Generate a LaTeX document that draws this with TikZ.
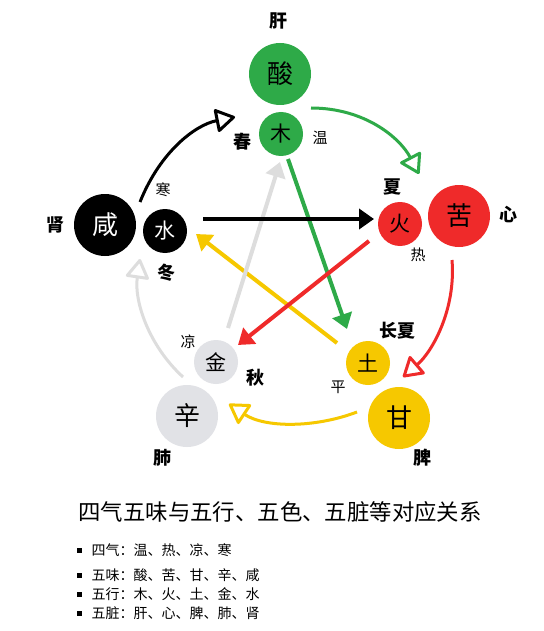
\documentclass[tikz,border=0pt]{standalone}
\usepackage{fontspec}
\setmainfont{Noto Sans CJK SC}
\usetikzlibrary{arrows.meta}
\definecolor{wgreen}{HTML}{2EAA48}
\definecolor{wred}{HTML}{EF2A2A}
\definecolor{wyellow}{HTML}{F6C800}
\definecolor{wgray}{HTML}{E1E2E6}
\definecolor{agray}{HTML}{DDDDDD}
\begin{document}
\begin{tikzpicture}[x=1pt,y=-1pt,
  big/.style={circle,minimum size=62pt,inner sep=0pt,font=\fontsize{26}{26}\selectfont},
  small/.style={circle,minimum size=44pt,inner sep=0pt,font=\fontsize{21}{21}\selectfont},
  lab/.style={font=\bfseries\fontsize{18}{18}\selectfont},
  qi/.style={font=\fontsize{15}{15}\selectfont},
  sarrow/.style={line width=4pt,-{Triangle[length=15pt,width=20pt]}},
  carrow/.style={line width=3pt,-{Triangle[length=21pt,width=25pt,line width=3pt,round,fill=white]}},
  bullet/.style={rectangle,fill=black,minimum size=5pt,inner sep=0pt},
  legend/.style={anchor=west,font=\fontsize{14}{14}\selectfont},
]
\useasboundingbox (0,0) rectangle (543,631);
\fill[white] (0,0) rectangle (543,631);

% circles
\node[big,fill=wgreen] (sour) at (280,74) {酸};
\node[small,fill=wgreen] (wood) at (281,134) {木};
\node[big,fill=black,text=white] (salty) at (105,225) {咸};
\node[small,fill=black,text=white] (water) at (165,231) {水};
\node[small,fill=wred] (fire) at (400,224) {火};
\node[big,fill=wred] (bitter) at (459,216) {苦};
\node[small,fill=wgray] (metal) at (216,362) {金};
\node[big,fill=wgray] (pungent) at (187,416) {辛};
\node[small,fill=wyellow] (earth) at (368,363) {土};
\node[big,fill=wyellow] (sweet) at (399,418) {甘};

% labels
\node[lab] (liver) at (278,21) {肝};
\node[lab] (spring) at (242,142) {春};
\node[qi] (warm) at (320,138) {温};
\node[qi] (cold) at (163,190) {寒};
\node[lab] (kidney) at (55,225) {肾};
\node[lab] (winter) at (166,273) {冬};
\node[lab] (summer) at (392,187) {夏};
\node[lab] (heart) at (508,215) {心};
\node[qi] (hot) at (418,255) {热};
\node[qi] (cool) at (188,342) {凉};
\node[lab] (autumn) at (255,378) {秋};
\node[lab] (lsummer) at (397,331) {长夏};
\node[qi] (neutral) at (338,387) {平};
\node[lab] (lung) at (162,458) {肺};
\node[lab] (spleen) at (422,458) {脾};

% arrow endpoints
\coordinate (wA) at (288,159);  \coordinate (wB) at (347,329);
\coordinate (kA) at (203,219);  \coordinate (kB) at (374,219);
\coordinate (eA) at (337,343);  \coordinate (eB) at (196,234);
\coordinate (fA) at (369,241);  \coordinate (fB) at (238,345);
\coordinate (mA) at (228,328);  \coordinate (mB) at (280,162);

\draw[sarrow,wgreen] (wA) -- (wB);
\draw[sarrow,wyellow] (eA) -- (eB);
\draw[sarrow,wred] (fA) -- (fB);
\draw[sarrow,agray] (mA) -- (mB);
\draw[sarrow,black] (kA) -- (kB);

% curved arrows
\coordinate (c1A) at (140,202); \coordinate (c1B) at (235,117);
\coordinate (c2A) at (311,108); \coordinate (c2B) at (419,174);
\coordinate (c3A) at (452,260); \coordinate (c3B) at (403,377);
\coordinate (c4A) at (357,412); \coordinate (c4B) at (229,404);
\coordinate (c5A) at (183,377); \coordinate (c5B) at (140,259);
\draw[carrow,black] (c1A) .. controls (160,152) and (195,125) .. (c1B);
\draw[carrow,wgreen] (c2A) .. controls (365,108) and (400,138) .. (c2B);
\draw[carrow,wred] (c3A) .. controls (456,310) and (432,352) .. (c3B);
\draw[carrow,wyellow] (c4A) .. controls (315,428) and (265,428) .. (c4B);
\draw[carrow,agray] (c5A) .. controls (148,345) and (134,300) .. (c5B);

% title and legend
\node[anchor=west,font=\fontsize{22.4}{22.4}\selectfont] (title) at (75,512) {四气五味与五行、五色、五脏等对应关系};
\node[bullet] (b1) at (79,550) {};
\node[bullet] (b2) at (79,575) {};
\node[bullet] (b3) at (79,594) {};
\node[bullet] (b4) at (79,613) {};
\node[legend] (l1) at (88,550) {四气：温、热、凉、寒};
\node[legend] (l2) at (88,575) {五味：酸、苦、甘、辛、咸};
\node[legend] (l3) at (88,594) {五行：木、火、土、金、水};
\node[legend] (l4) at (88,613) {五脏：肝、心、脾、肺、肾};
\end{tikzpicture}
\end{document}
